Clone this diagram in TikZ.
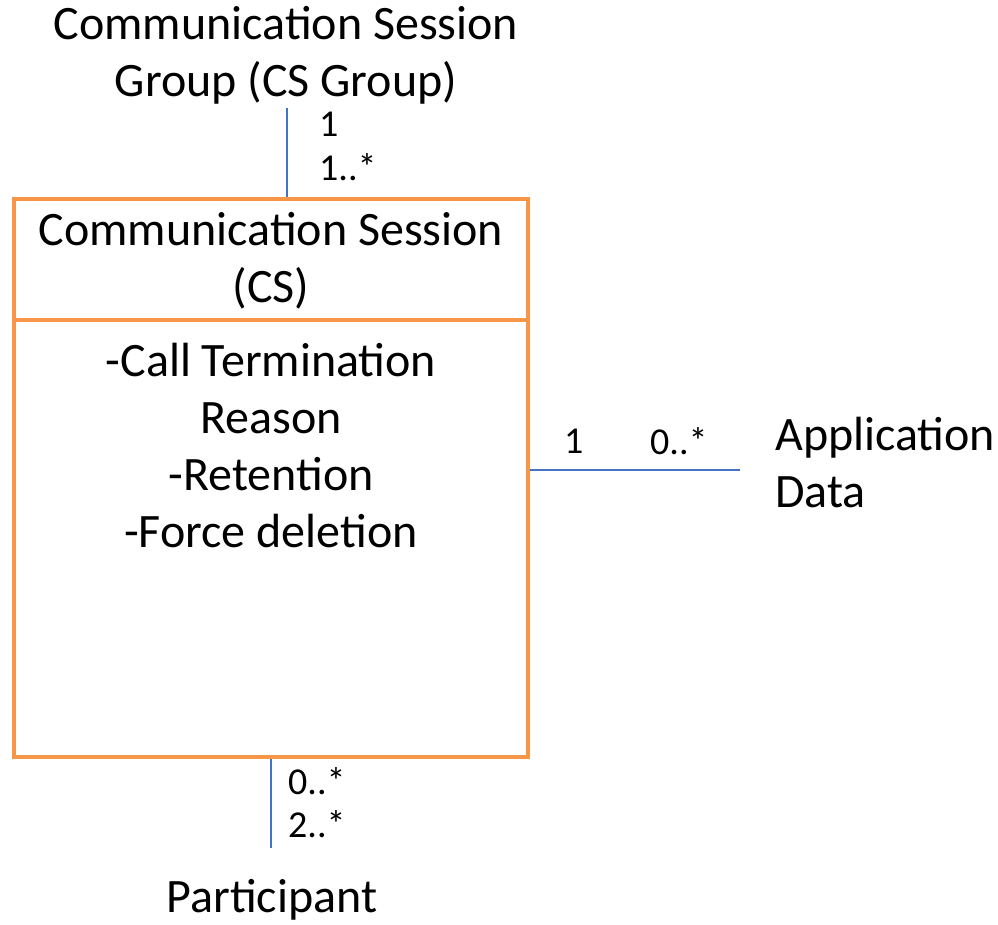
\documentclass[tikz,border=0pt]{standalone}
\usepackage{fontspec}
\setmainfont{Carlito}
\usetikzlibrary{positioning,calc}
\definecolor{umlorange}{HTML}{F79646}
\definecolor{umlblue}{HTML}{4472C4}

\begin{document}
\begin{tikzpicture}[x=1pt,y=-1pt,
	bigtext/.style={font=\fontsize{48}{57}\selectfont, align=center, inner sep=0pt},
	mult/.style={font=\fontsize{38}{45}\selectfont, anchor=west, inner sep=0pt},
	classpart/.style={draw=umlorange, line width=4.5pt, minimum width=514pt, inner sep=0pt},
	assoc/.style={draw=umlblue, line width=1.5pt}]
	\useasboundingbox (0,0) rectangle (998,924);

	%CS class box
	\node[classpart, minimum height=121pt] (cshead) at (271,259.5) {};
	\node[classpart, minimum height=437pt] (csbody) at (271,538.5) {};
	\node[bigtext] (csname) at (271,261) {Communication Session\\(CS)};
	\node[bigtext] (csattrs) at (271,446) {-Call Termination\\Reason\\-Retention\\-Force deletion};

	%other classes
	\node[bigtext] (group) at (286,55) {Communication Session\\Group (CS Group)};
	\node[bigtext, align=left, anchor=west] (appdata) at (775,463) {Application\\Data};
	\node[bigtext] (participant) at (272,900) {Participant};

	%free ends of the associations
	\coordinate (grouptail) at (287,108);
	\coordinate (apptail) at (740,470);
	\coordinate (parttail) at (271,848);

	%associations
	\draw[assoc] (grouptail) -- (grouptail |- cshead.north);
	\draw[assoc] (csbody.east |- apptail) -- (apptail);
	\draw[assoc] (csbody.south) -- (parttail);

	\foreach \mname/\xpos/\ypos/\txt in {gone/319/124/1, gmany/319/167/{1..*},
		csone/564/441/1, appmany/650/441/{0..*},
		csmany/288/781/{0..*}, partmany/288/824/{2..*}}{
		\node[mult] (\mname) at (\xpos,\ypos) {\txt};
	}
\end{tikzpicture}
\end{document}
